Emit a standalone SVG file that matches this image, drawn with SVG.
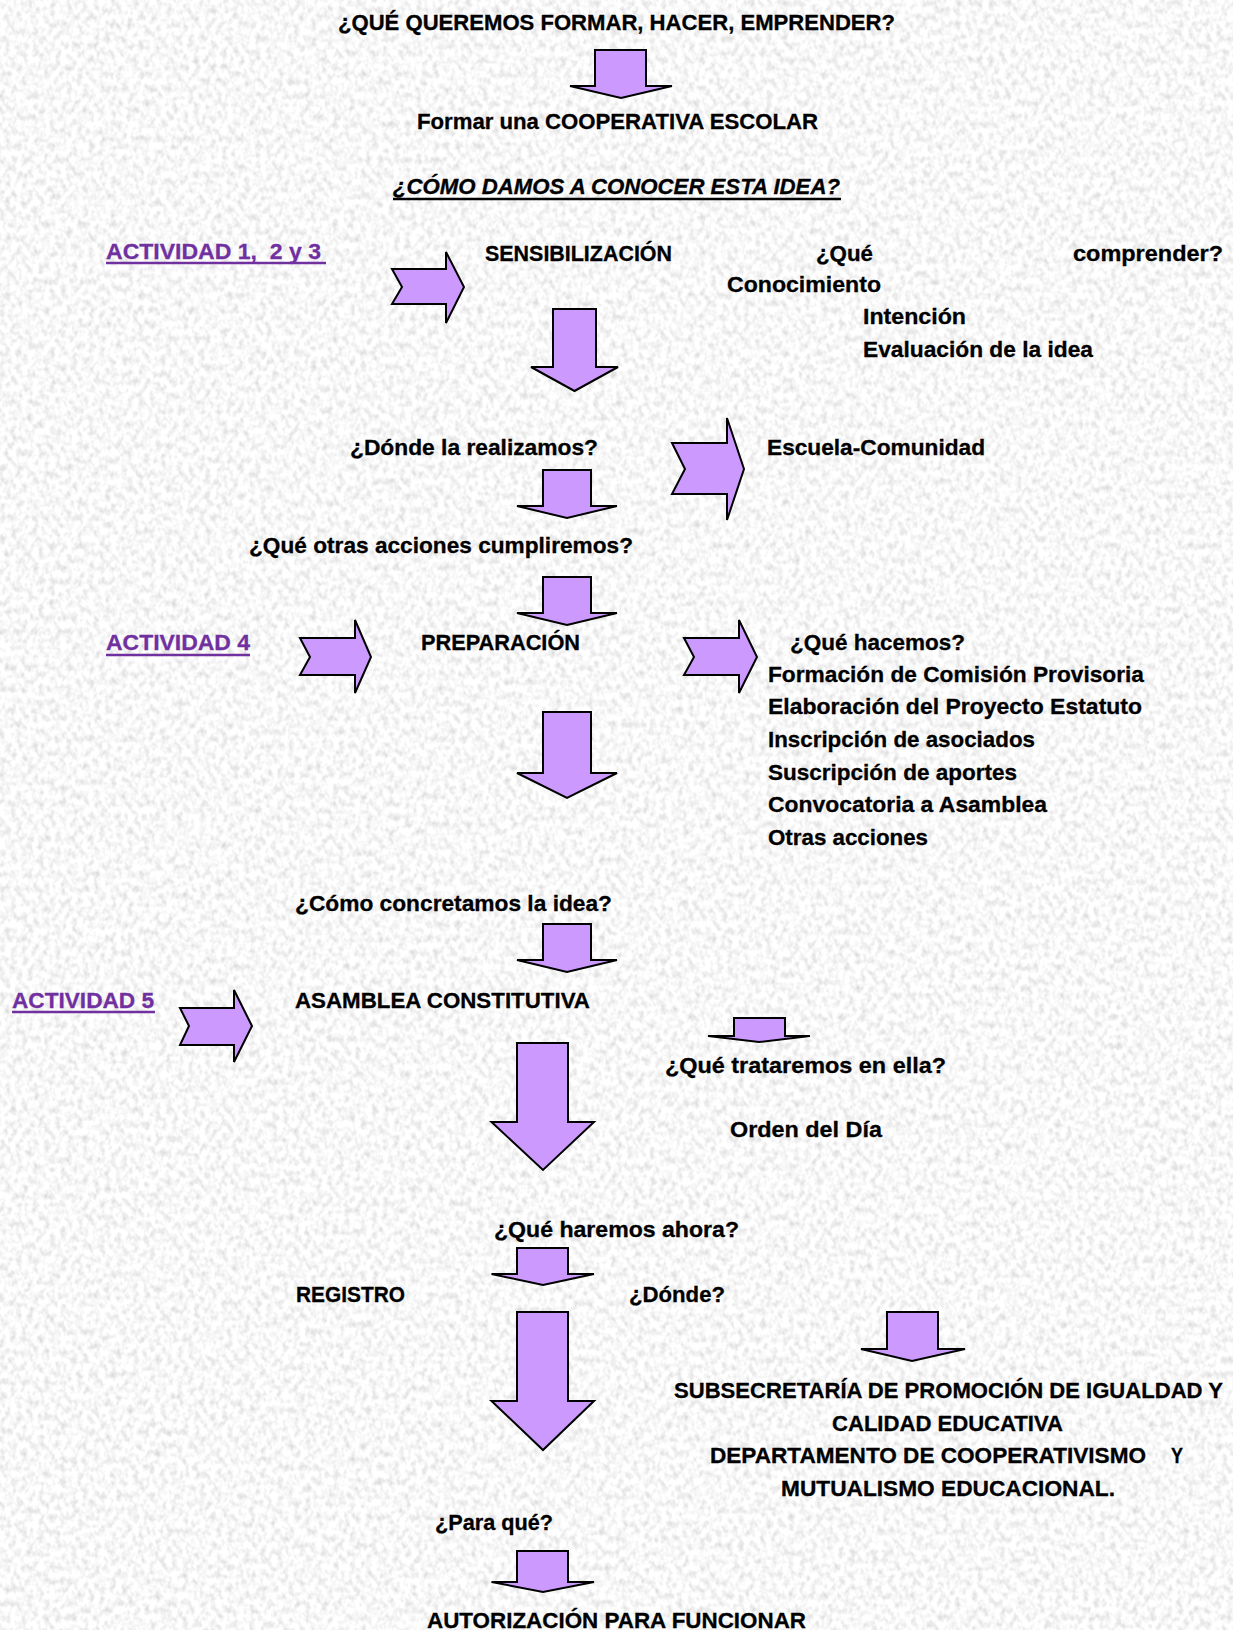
<svg xmlns="http://www.w3.org/2000/svg" width="1233" height="1630" viewBox="0 0 1233 1630">
<defs>
<filter id="tex" x="0" y="0" width="100%" height="100%">
<feTurbulence type="fractalNoise" baseFrequency="0.18 0.14" numOctaves="2" seed="7" result="n"/>
<feColorMatrix in="n" type="matrix" values="0.6 0 0 0 0.64  0.6 0 0 0 0.64  0.6 0 0 0 0.64  0 0 0 0 1"/>
</filter>
<style>
.t{font-family:"Liberation Sans",Arial,sans-serif;font-size:22px;font-weight:bold;fill:#000;stroke:#000;stroke-width:0.3}
.p{fill:#7030A0;stroke:#7030A0}
.i{font-style:italic}
.ar{fill:#CC99FF;stroke:#000;stroke-width:2;stroke-linejoin:miter}
.ul{stroke:#7030A0;stroke-width:2.5}
.ulk{stroke:#000;stroke-width:2.5}
</style>
</defs>
<rect width="1233" height="1630" fill="#ececec"/>
<rect width="1233" height="1630" filter="url(#tex)"/>

<g id="connectors">
<path class="ar" d="M595 50H646V86H672L621 98L570 86H595Z"/>
<path class="ar" d="M392 269H446V252L464 287L446 323V304H392L402 287Z"/>
<path class="ar" d="M553 309H596V367H618L574.5 391L531 367H553Z"/>
<path class="ar" d="M672 443H727V418L744 469L727 520V494H672L685 469Z"/>
<path class="ar" d="M543 470H591V506H617L567 518L517 506H543Z"/>
<path class="ar" d="M543 577H591V613H617L567 625L517 613H543Z"/>
<path class="ar" d="M300 638H355V620L371 657L355 693V675H300L310 657Z"/>
<path class="ar" d="M684 638H739V620L757 657L739 693V675H684L694 657Z"/>
<path class="ar" d="M543 712H591V773H617L567 798L517 773H543Z"/>
<path class="ar" d="M543 924H591V960H617L567 972L517 960H543Z"/>
<path class="ar" d="M180 1008H234V990L252 1026L234 1062V1045H180L189 1026Z"/>
<path class="ar" d="M734 1018H785V1036H810L759 1042L708 1036H734Z"/>
<path class="ar" d="M517 1043H568V1122H594L543 1170L491.5 1122H517Z"/>
<path class="ar" d="M517 1248H568V1274H594L543 1285L491.5 1274H517Z"/>
<path class="ar" d="M517 1312H568V1401H594L543 1450L491.5 1401H517Z"/>
<path class="ar" d="M887 1312H938V1349H965L912 1361L861 1349H887Z"/>
<path class="ar" d="M517 1551H568V1582H594L543 1592L491.5 1582H517Z"/>
</g>

<g id="q-formar"><text class="t" x="338" y="30" textLength="557" lengthAdjust="spacingAndGlyphs">¿QUÉ QUEREMOS FORMAR, HACER, EMPRENDER?</text></g>
<g id="cooperativa"><text class="t" x="417" y="129" textLength="401" lengthAdjust="spacingAndGlyphs">Formar una COOPERATIVA ESCOLAR</text></g>
<g id="q-como"><text class="t i" x="393" y="194" textLength="447" lengthAdjust="spacingAndGlyphs">¿CÓMO DAMOS A CONOCER ESTA IDEA?</text><line class="ulk" x1="393" y1="199" x2="841" y2="199"/></g>
<g id="act123"><text class="t p" x="106" y="259" textLength="215" lengthAdjust="spacingAndGlyphs" style="white-space:pre">ACTIVIDAD 1,  2 y 3</text><line class="ul" x1="106" y1="263" x2="326" y2="263"/></g>
<g id="sensibilizacion"><text class="t" x="485" y="261" textLength="187" lengthAdjust="spacingAndGlyphs">SENSIBILIZACIÓN</text></g>
<g id="comprender">
<text class="t" x="816" y="261" textLength="57" lengthAdjust="spacingAndGlyphs">¿Qué</text>
<text class="t" x="1073" y="261" textLength="150" lengthAdjust="spacingAndGlyphs">comprender?</text>
<text class="t" x="727" y="292" textLength="154" lengthAdjust="spacingAndGlyphs">Conocimiento</text>
<text class="t" x="863" y="324" textLength="103" lengthAdjust="spacingAndGlyphs">Intención</text>
<text class="t" x="863" y="357" textLength="230" lengthAdjust="spacingAndGlyphs">Evaluación de la idea</text>
</g>
<g id="q-donde"><text class="t" x="350" y="455" textLength="248" lengthAdjust="spacingAndGlyphs">¿Dónde la realizamos?</text></g>
<g id="escuela"><text class="t" x="767" y="455" textLength="218" lengthAdjust="spacingAndGlyphs">Escuela-Comunidad</text></g>
<g id="q-otras"><text class="t" x="249" y="553" textLength="384" lengthAdjust="spacingAndGlyphs">¿Qué otras acciones cumpliremos?</text></g>
<g id="act4"><text class="t p" x="106" y="650" textLength="144" lengthAdjust="spacingAndGlyphs">ACTIVIDAD 4</text><line class="ul" x1="106" y1="655" x2="250" y2="655"/></g>
<g id="preparacion"><text class="t" x="421" y="650" textLength="159" lengthAdjust="spacingAndGlyphs">PREPARACIÓN</text></g>
<g id="hacemos">
<text class="t" x="790" y="650" textLength="175" lengthAdjust="spacingAndGlyphs">¿Qué hacemos?</text>
<text class="t" x="768" y="682" textLength="376" lengthAdjust="spacingAndGlyphs">Formación de Comisión Provisoria</text>
<text class="t" x="768" y="714" textLength="374" lengthAdjust="spacingAndGlyphs">Elaboración del Proyecto Estatuto</text>
<text class="t" x="768" y="747" textLength="267" lengthAdjust="spacingAndGlyphs">Inscripción de asociados</text>
<text class="t" x="768" y="780" textLength="249" lengthAdjust="spacingAndGlyphs">Suscripción de aportes</text>
<text class="t" x="768" y="812" textLength="279" lengthAdjust="spacingAndGlyphs">Convocatoria a Asamblea</text>
<text class="t" x="768" y="845" textLength="160" lengthAdjust="spacingAndGlyphs">Otras acciones</text>
</g>
<g id="q-concretamos"><text class="t" x="295" y="911" textLength="317" lengthAdjust="spacingAndGlyphs">¿Cómo concretamos la idea?</text></g>
<g id="act5"><text class="t p" x="12" y="1008" textLength="142" lengthAdjust="spacingAndGlyphs">ACTIVIDAD 5</text><line class="ul" x1="12" y1="1012" x2="155" y2="1012"/></g>
<g id="asamblea"><text class="t" x="295" y="1008" textLength="295" lengthAdjust="spacingAndGlyphs">ASAMBLEA CONSTITUTIVA</text></g>
<g id="q-trataremos"><text class="t" x="665" y="1073" textLength="281" lengthAdjust="spacingAndGlyphs">¿Qué trataremos en ella?</text></g>
<g id="orden"><text class="t" x="730" y="1137" textLength="152" lengthAdjust="spacingAndGlyphs">Orden del Día</text></g>
<g id="q-ahora"><text class="t" x="494" y="1237" textLength="245" lengthAdjust="spacingAndGlyphs">¿Qué haremos ahora?</text></g>
<g id="registro"><text class="t" x="296" y="1302" textLength="109" lengthAdjust="spacingAndGlyphs">REGISTRO</text></g>
<g id="q-donde2"><text class="t" x="629" y="1302" textLength="96" lengthAdjust="spacingAndGlyphs">¿Dónde?</text></g>
<g id="subsecretaria">
<text class="t" x="674" y="1398" textLength="549" lengthAdjust="spacingAndGlyphs">SUBSECRETARÍA DE PROMOCIÓN DE IGUALDAD Y</text>
<text class="t" x="832" y="1431" textLength="231" lengthAdjust="spacingAndGlyphs">CALIDAD EDUCATIVA</text>
<text class="t" x="710" y="1463" textLength="436" lengthAdjust="spacingAndGlyphs">DEPARTAMENTO DE COOPERATIVISMO</text>
<text class="t" x="1171" y="1463" textLength="12" lengthAdjust="spacingAndGlyphs">Y</text>
<text class="t" x="781" y="1496" textLength="334" lengthAdjust="spacingAndGlyphs">MUTUALISMO EDUCACIONAL.</text>
</g>
<g id="q-para"><text class="t" x="435" y="1530" textLength="118" lengthAdjust="spacingAndGlyphs">¿Para qué?</text></g>
<g id="autorizacion"><text class="t" x="427" y="1628" textLength="379" lengthAdjust="spacingAndGlyphs">AUTORIZACIÓN PARA FUNCIONAR</text></g>
</svg>
